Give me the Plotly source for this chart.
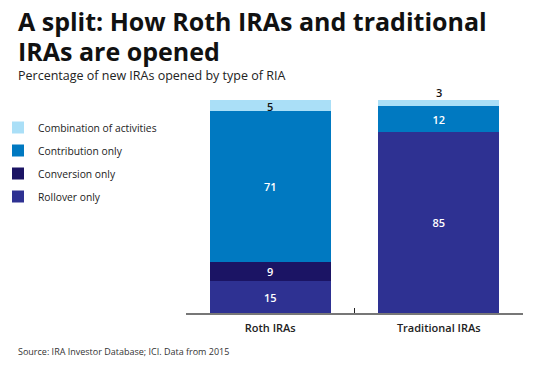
import plotly.graph_objects as go

categories = ["Roth IRAs", "Traditional IRAs"]
series_names = ["Rollover only", "Conversion only", "Contribution only", "Combination of activities"]
rollover = [15, 85]
conversion = [9, 0]
contribution = [71, 12]
combination = [5, 3]
series_values = [rollover, conversion, contribution, combination]
colors = ["#2e3192", "#1b1464", "#0079c1", "#aadff7"]
legend_ranks = [4, 3, 2, 1]

FONT = "Open Sans"
OFF = 8  # page body margin
W, H = 547 - 2 * OFF, 371 - 2 * OFF
# plot area edges in reference-picture pixels
PL, PR, PT, PB = 186, 523, 100, 313
ML, MR, MT, MB = PL - OFF, W - (PR - OFF), PT - OFF, H - (PB - OFF)
PW, PH = W - ML - MR, H - MT - MB

def px(xp):
    return (xp - OFF - ML) / PW

def py(yp):
    return (H - MB - (yp - OFF)) / PH

fig = go.Figure()
for name, vals, col, rk in zip(series_names, series_values, colors, legend_ranks):
    is_top = name == "Combination of activities"
    fig.add_trace(go.Bar(
        x=categories, y=vals, name=name, legendgroup=name, legendrank=rk,
        marker=dict(color=col, line=dict(width=0)),
        text=[("" if (v == 0 or is_top) else str(v)) for v in vals],
        textposition="inside", insidetextanchor="middle", textangle=0,
        textfont=dict(color="white", size=11, family=FONT, weight=600),
        hoverinfo="skip",
    ))

# top-segment labels
for cat, v, r, cv, ct in zip(categories, combination, rollover, conversion, contribution):
    base = r + cv + ct
    if v >= 5:
        fig.add_annotation(x=cat, y=base + v / 2, text=str(v), showarrow=False,
                           font=dict(size=11, color="#111", family=FONT, weight=600), yshift=-1)
    else:
        fig.add_annotation(x=cat, y=base + v, text=str(v), showarrow=False,
                           yanchor="bottom", font=dict(size=11, color="#111", family=FONT, weight=600),
                           yshift=-2)

fig.update_layout(
    barmode="stack", bargap=0.28,
    width=W, height=H,
    margin=dict(l=ML, r=MR, t=MT, b=MB, autoexpand=False),
    paper_bgcolor="white", plot_bgcolor="white",
    font=dict(family=FONT, color="#222"),
    showlegend=True,
    uniformtext=dict(minsize=11, mode="show"),
    legend=dict(traceorder="grouped", tracegroupgap=4,
                x=px(-2), xref="paper", y=py(113), yref="paper",
                xanchor="left", yanchor="top", font=dict(size=10.3, color="#222", family=FONT),
                itemwidth=30, bgcolor="rgba(0,0,0,0)"),
    xaxis=dict(showline=True, linecolor="#777", linewidth=1.5, ticks="inside", tickson="boundaries",
               ticklen=5, tickcolor="#222", tickwidth=1, ticklabelstandoff=4,
               tickfont=dict(size=11, color="#222", family=FONT, weight=600),
               showgrid=False, fixedrange=True),
    yaxis=dict(range=[0, 100], visible=False, fixedrange=True),
)

title_lines = ["A split: How Roth IRAs and traditional", "IRAs are opened"]
for line, yc in zip(title_lines, [20.5, 51]):
    fig.add_annotation(text="<b>" + line + "</b>",
                       xref="paper", yref="paper", x=px(16), y=py(yc), xanchor="left", yanchor="middle",
                       align="left", showarrow=False, font=dict(size=25, color="#111", family=FONT))
fig.add_annotation(text="Percentage of new IRAs opened by type of RIA",
                   xref="paper", yref="paper", x=px(16), y=py(75), xanchor="left", yanchor="middle",
                   align="left", showarrow=False, font=dict(size=12.5, color="#222", family=FONT))
fig.add_annotation(text="Source: IRA Investor Database; ICI. Data from 2015",
                   xref="paper", yref="paper", x=px(16), y=py(351), xanchor="left", yanchor="middle",
                   align="left", showarrow=False, font=dict(size=9, color="#333", family=FONT))

fig.write_html("out.html")
